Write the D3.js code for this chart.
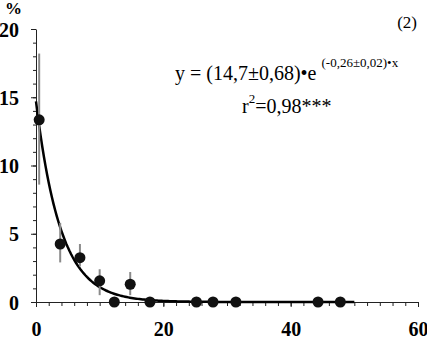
<!DOCTYPE html>
<html>
<head>
<meta charset="utf-8">
<script src="https://cdn.jsdelivr.net/npm/d3@7"></script>
<style>
  body { margin: 0; background: #fff; }
  svg { display: block; }
</style>
</head>
<body>
<svg id="chart" width="427" height="341"></svg>
<script>
// data
const xValues = [0.5, 3.8, 6.9, 10.0, 12.3, 14.8, 17.9, 25.2, 27.8, 31.4, 44.3, 47.8];
const yValues = [13.35, 4.25, 3.25, 1.55, 0, 1.3, 0, 0, 0, 0, 0, 0];
const errLow  = [8.6, 2.9, 2.6, 0.5, 0, 0.5, 0, 0, 0, 0, 0, 0];
const errHigh = [18.2, 5.8, 4.25, 2.4, 0, 2.2, 0, 0, 0, 0, 0, 0];
const xTicks = [0, 20, 40, 60];
const yTicks = [0, 5, 10, 15, 20];

// fitted model y = a * e^(b*x), from the printed equation
const fitA = 14.7;
const fitB = -0.26;
const fitRange = [0, 50];

const svg = d3.select('#chart');

const xScale = d3.scaleLinear().domain([0, 60]).range([36, 418]);
const yScale = d3.scaleLinear().domain([0, 20]).range([302, 29]);

const axisColor = '#222';
const font = '"Liberation Serif", "Times New Roman", serif';

// minor ticks
svg.append('g')
    .attr('transform', 'translate(0,' + yScale(0) + ')')
    .call(d3.axisBottom(xScale).tickValues(d3.range(0, 61, 2)).tickSize(4).tickSizeOuter(0).tickFormat(''))
    .call(g => g.select('.domain').attr('stroke', axisColor))
    .call(g => g.selectAll('line').attr('stroke', axisColor));

svg.append('g')
    .attr('transform', 'translate(' + xScale(0) + ',0)')
    .call(d3.axisLeft(yScale).tickValues(d3.range(0, 21, 1)).tickSize(3).tickSizeOuter(0).tickFormat(''))
    .call(g => g.select('.domain').attr('stroke', axisColor))
    .call(g => g.selectAll('line').attr('stroke', axisColor));

// major ticks + labels
svg.append('g')
    .attr('transform', 'translate(0,' + yScale(0) + ')')
    .attr('font-family', font)
    .call(d3.axisBottom(xScale).tickValues(xTicks).tickSize(5).tickPadding(15))
    .call(g => g.select('.domain').remove())
    .call(g => g.selectAll('line').attr('stroke', axisColor))
    .call(g => g.selectAll('text')
        .attr('fill', '#000')
        .style('font-family', font)
        .style('font-weight', 'bold')
        .style('font-size', '20px'));

svg.append('g')
    .attr('transform', 'translate(' + xScale(0) + ',0)')
    .attr('font-family', font)
    .call(d3.axisLeft(yScale).tickValues(yTicks).tickSize(5).tickPadding(12))
    .call(g => g.select('.domain').remove())
    .call(g => g.selectAll('line').attr('stroke', axisColor))
    .call(g => g.selectAll('text')
        .attr('fill', '#000')
        .attr('dy', '0.35em')
        .style('font-family', font)
        .style('font-weight', 'bold')
        .style('font-size', '20px'));

// "%" unit label
svg.append('text')
    .attr('x', 5)
    .attr('y', 14)
    .style('font-family', font)
    .style('font-weight', 'bold')
    .style('font-size', '17px')
    .text('%');

// fitted curve
const curveX = d3.range(fitRange[0], fitRange[1] + 0.001, 0.25);
const line = d3.line()
    .x(d => xScale(d))
    .y(d => yScale(fitA * Math.exp(fitB * d)));

svg.append('path')
    .datum(curveX)
    .attr('d', line)
    .attr('fill', 'none')
    .attr('stroke', '#000')
    .attr('stroke-width', 2.5);

// error bars
svg.selectAll('line.err')
    .data(xValues.map((x, i) => i).filter(i => errHigh[i] > errLow[i]))
    .enter()
    .append('line')
    .attr('class', 'err')
    .attr('x1', i => xScale(xValues[i]))
    .attr('x2', i => xScale(xValues[i]))
    .attr('y1', i => yScale(errLow[i]))
    .attr('y2', i => yScale(errHigh[i]))
    .attr('stroke', '#8a8a8a')
    .attr('stroke-width', 2);

// points
svg.selectAll('circle')
    .data(xValues.map((x, i) => i))
    .enter()
    .append('circle')
    .attr('cx', i => xScale(xValues[i]))
    .attr('cy', i => yScale(yValues[i]))
    .attr('r', 5.5)
    .attr('fill', '#111');

// annotations
svg.append('text')
    .attr('x', 417)
    .attr('y', 28)
    .attr('text-anchor', 'end')
    .style('font-family', font)
    .style('font-size', '17px')
    .text('(2)');

const eq = svg.append('text')
    .attr('x', 175)
    .attr('y', 80)
    .style('font-family', font)
    .style('font-size', '20px');
eq.append('tspan').text('y = (14,7\u00b10,68)\u2022e');
eq.append('tspan')
    .attr('dx', 5)
    .attr('dy', -13)
    .style('font-size', '13px')
    .text('(-0,26\u00b10,02)\u2022x');

const r2 = svg.append('text')
    .attr('x', 242)
    .attr('y', 113)
    .style('font-family', font)
    .style('font-size', '20px');
r2.append('tspan').text('r');
r2.append('tspan')
    .attr('dy', -10)
    .style('font-size', '13px')
    .text('2');
r2.append('tspan')
    .attr('dy', 10)
    .text('=0,98***');
</script>
</body>
</html>
